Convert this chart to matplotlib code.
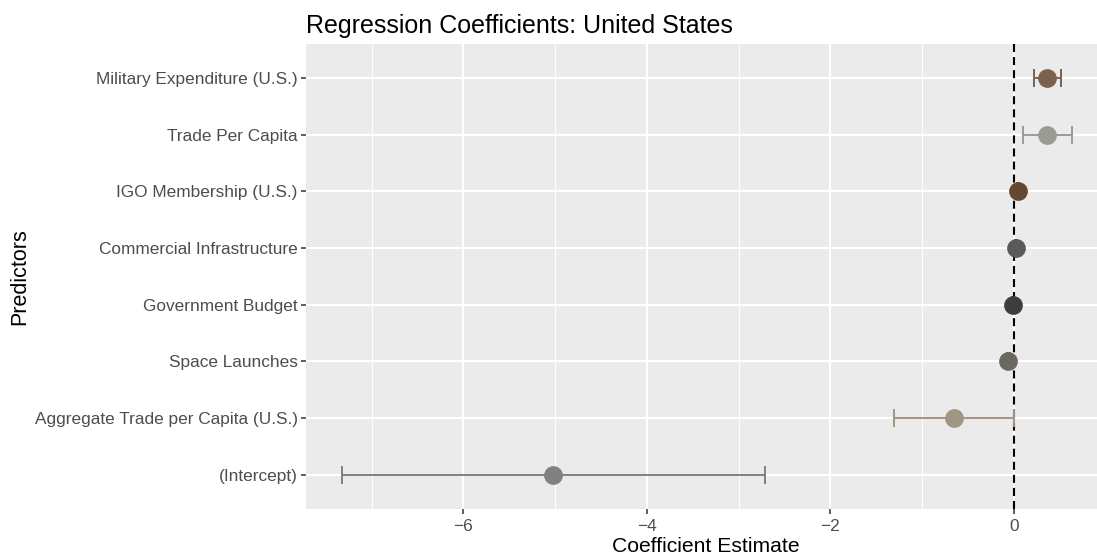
import matplotlib
matplotlib.use("Agg")
import matplotlib.pyplot as plt
from matplotlib.ticker import MultipleLocator

plt.rcParams['font.family'] = ['Liberation Sans', 'DejaVu Sans']
plt.rcParams['lines.scale_dashes'] = False

# predictors, bottom to top
predictors = ["(Intercept)", "Aggregate Trade per Capita (U.S.)", "Space Launches",
              "Government Budget", "Commercial Infrastructure", "IGO Membership (U.S.)",
              "Trade Per Capita", "Military Expenditure (U.S.)"]
estimates = [-5.02, -0.65, -0.058, -0.011, 0.025, 0.044, 0.367, 0.367]
ci_low = [-7.32, -1.31, -0.07, -0.02, 0.015, 0.035, 0.098, 0.225]
ci_high = [-2.71, 0.0, -0.045, -0.002, 0.035, 0.053, 0.636, 0.51]
colors = ["#808080", "#a39583", "#6b6861", "#3d3d3d", "#5a5a5a", "#644832",
          "#9b9a93", "#7a6251"]

fig = plt.figure(figsize=(10.97, 5.58), dpi=100)
ax = fig.add_axes([306 / 1097, 1 - 508.5 / 558, (1097 - 306) / 1097, (508.5 - 44) / 558])
ax.set_facecolor("#EBEBEB")
for s in ax.spines.values():
    s.set_visible(False)

ax.set_xlim(-7.716, 0.907)
ax.set_ylim(-0.6, len(predictors) - 0.4)
ax.xaxis.set_major_locator(MultipleLocator(2))
ax.xaxis.set_minor_locator(MultipleLocator(1))
ax.grid(which="major", color="white", linewidth=1.5)
ax.grid(which="minor", axis="x", color="white", linewidth=0.75)
ax.set_axisbelow(True)

ax.axvline(0, color="black", linewidth=1.5, linestyle=(0, (5.8, 3.6)), zorder=2)

for i in range(len(predictors)):
    ax.errorbar(estimates[i], i, xerr=[[estimates[i] - ci_low[i]], [ci_high[i] - estimates[i]]],
                fmt="none", ecolor=colors[i], elinewidth=1.4, capsize=6.5, capthick=1.4, zorder=3)
    ax.plot(estimates[i], i, "o", color=colors[i], markersize=13.5, markeredgewidth=0, zorder=4)

ax.set_yticks(range(len(predictors)))
ax.set_yticklabels(predictors)
ax.tick_params(axis="both", which="major", labelsize=12.4, labelcolor="#4D4D4D",
               color="#333333", length=3.5, width=1.1, pad=2.5)
ax.tick_params(axis="x", which="major", pad=4)
ax.tick_params(axis="x", which="minor", length=0)
ax.set_xticks([-6, -4, -2, 0])
ax.set_xticklabels(["\u22126", "\u22124", "\u22122", "0"])

ax.set_xlabel("Coefficient Estimate", fontsize=15.2, va="top")
ax.xaxis.set_label_coords(0.506, -0.062)
ax.set_ylabel("Predictors", fontsize=15.5, labelpad=3)
ax.set_title("Regression Coefficients: United States", fontsize=18, loc="left", pad=8)

fig.savefig("out.png", dpi=100)
